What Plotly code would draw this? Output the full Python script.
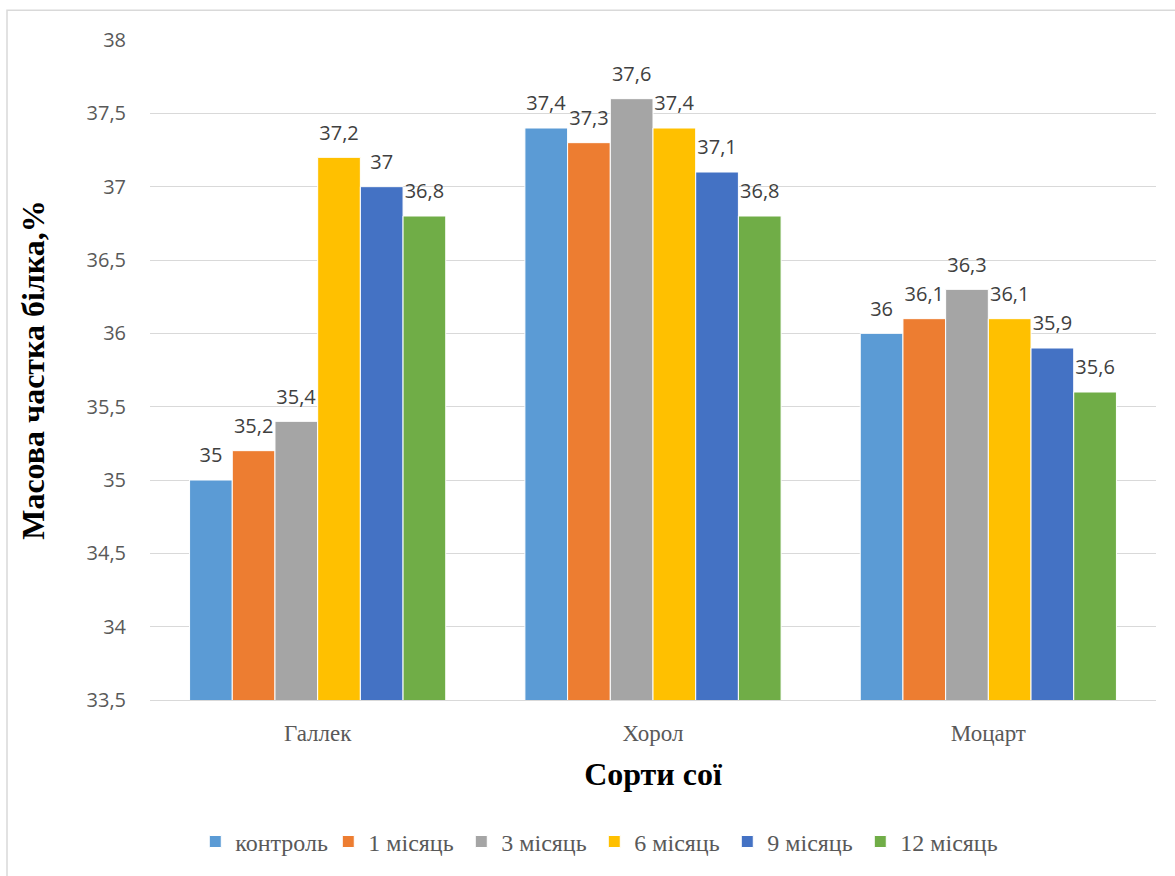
import plotly.graph_objects as go

categories = ["Галлек", "Хорол", "Моцарт"]
series_names = ["контроль", "1 місяць", "3 місяць", "6 місяць", "9 місяць", "12 місяць"]
kontrol = [35.0, 37.4, 36.0]
m1 = [35.2, 37.3, 36.1]
m3 = [35.4, 37.6, 36.3]
m6 = [37.2, 37.4, 36.1]
m9 = [37.0, 37.1, 35.9]
m12 = [36.8, 36.8, 35.6]
series_values = [kontrol, m1, m3, m6, m9, m12]
colors = ["#5B9BD5", "#ED7D31", "#A5A5A5", "#FFC000", "#4472C4", "#70AD47"]
y_ticks = [33.5, 34, 34.5, 35, 35.5, 36, 36.5, 37, 37.5, 38]

LABEL_PAD = 0.06  # gap (in axis units) between bar top and its data label
label_font = dict(family="Open Sans, Liberation Sans, sans-serif", size=20, color="#404040")

fig = go.Figure()
for i, (name, vals, col) in enumerate(zip(series_names, series_values, colors)):
    fig.add_trace(go.Bar(
        name=name, x=categories, y=vals, offsetgroup=str(i),
        marker=dict(color=col, line=dict(color="white", width=1)),
    ))
    labels = [f"{v:g}".replace(".", ",") for v in vals]
    fig.add_trace(go.Bar(
        x=categories, y=[LABEL_PAD] * len(vals), base=vals, offsetgroup=str(i),
        marker=dict(color="rgba(0,0,0,0)", line=dict(width=0)),
        text=labels, textposition="outside", cliponaxis=False,
        textfont=label_font, showlegend=False, hoverinfo="skip",
    ))

# blank spacer entry so the last legend label is not clipped
fig.add_trace(go.Bar(x=categories[:1], y=[None], name=" ", offsetgroup="0", showlegend=True,
                     marker=dict(color="rgba(0,0,0,0)", line=dict(width=0)), hoverinfo="skip"))

fig.update_layout(
    width=1175, height=876,
    barmode="group", bargap=0.236, bargroupgap=0,
    separators=", ",
    plot_bgcolor="white", paper_bgcolor="white",
    margin=dict(l=150, r=19, t=40, b=171),
    showlegend=True,
    legend=dict(orientation="h", x=0.045, xanchor="left", y=-0.215, yanchor="middle",
                font=dict(family="Liberation Serif, serif", size=24, color="#595959"),
                entrywidth=88, entrywidthmode="pixels", itemwidth=30),
    xaxis=dict(showline=True, linecolor="#d9d9d9", linewidth=1,
               tickfont=dict(family="Liberation Serif, serif", size=23, color="#595959"),
               ticks="", ticklabelstandoff=12,
               title=dict(text="<b>Сорти сої</b>", standoff=18,
               font=dict(family="Liberation Serif, serif", size=32, color="black"))),
    yaxis=dict(range=[33.5, 38], tickvals=y_ticks, showgrid=True, gridcolor="#d9d9d9",
               gridwidth=1, zeroline=False, ticks="", ticklabelstandoff=23,
               tickfont=dict(family="Open Sans, Liberation Sans, sans-serif", size=20, color="#595959"),
               title=dict(text="<b>Масова частка білка,%</b>", standoff=32,
               font=dict(family="Liberation Serif, serif", size=32, color="black"))),
)

fig.add_shape(type="rect", xref="paper", yref="paper",
              x0=(7 - 150) / 1006, x1=1.1, y0=-0.4, y1=(705 - 10) / 665,
              line=dict(color="#d9d9d9", width=1.5), fillcolor="rgba(0,0,0,0)", layer="below")

fig.write_html("out.html", config={"displayModeBar": False},
               post_script="document.body.style.margin='0';")
